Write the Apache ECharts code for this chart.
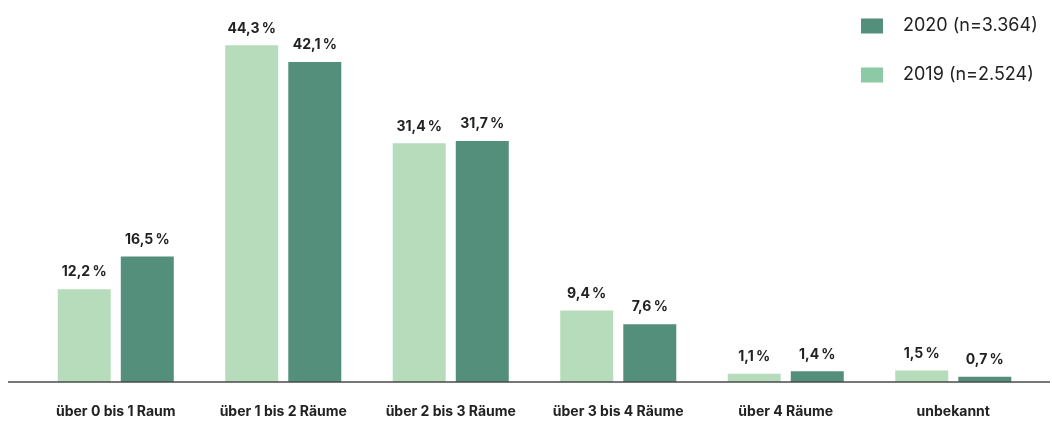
<!DOCTYPE html>
<html>
<head>
<meta charset="utf-8">
<script src="https://cdn.jsdelivr.net/npm/echarts@6/dist/echarts.min.js"></script>
<style>
html,body{margin:0;padding:0;background:#fff;}
#chart{width:1052px;height:422px;}
</style>
</head>
<body>
<div id="chart"></div>
<script>
const categories = ['über 0 bis 1 Raum', 'über 1 bis 2 Räume', 'über 2 bis 3 Räume', 'über 3 bis 4 Räume', 'über 4 Räume', 'unbekannt'];
const values2019 = [12.2, 44.3, 31.4, 9.4, 1.1, 1.5];
const values2020 = [16.5, 42.1, 31.7, 7.6, 1.4, 0.7];
const name2019 = '2019 (n=2.524)';
const name2020 = '2020 (n=3.364)';

const FONT = 'Inter, Lato, "Noto Sans", sans-serif';
const fmt = p => p.value.toFixed(1).replace('.', ',') + '\u2009%';

const chart = echarts.init(document.getElementById('chart'));
chart.setOption({
  backgroundColor: '#ffffff',
  animation: false,
  textStyle: { fontFamily: FONT },
  grid: { left: 32, right: 15, top: 2, bottom: 40, containLabel: false },
  legend: {
    orient: 'vertical',
    left: 856,
    top: 11,
    itemWidth: 22,
    itemHeight: 15,
    itemGap: 29,
    icon: 'rect',
    data: [
      { name: name2020, itemStyle: { color: '#548f7c' } },
      { name: name2019, itemStyle: { color: '#8cc9a5' } }
    ],
    textStyle: { fontSize: 18, color: '#222', fontFamily: FONT, padding: [0, 0, 0, 15], lineHeight: 20 }
  },
  xAxis: {
    type: 'category',
    data: categories,
    axisLine: { show: false },
    axisTick: { show: false },
    axisLabel: { interval: 0, margin: 23, fontSize: 14, fontWeight: 'bold', color: '#222', fontFamily: FONT }
  },
  yAxis: {
    type: 'value',
    min: 0,
    max: 50,
    show: false,
    splitLine: { show: false }
  },
  series: [
    {
      name: name2019,
      type: 'bar',
      data: values2019,
      barWidth: 53,
      barGap: '19%',
      itemStyle: { color: '#b6dcbb' },
      label: { show: true, position: 'top', distance: 10, formatter: fmt, fontSize: 14, fontWeight: 'bold', color: '#222', fontFamily: FONT }
    },
    {
      name: name2020,
      type: 'bar',
      data: values2020,
      barWidth: 53,
      itemStyle: { color: '#548f7c' },
      label: { show: true, position: 'top', distance: 10, formatter: fmt, fontSize: 14, fontWeight: 'bold', color: '#222', fontFamily: FONT }
    }
  ],
  graphic: [
    { type: 'line', shape: { x1: 8, y1: 382, x2: 1050, y2: 382 }, style: { stroke: '#4a4a4a', lineWidth: 1.5 }, z: 100 }
  ]
});
</script>
</body>
</html>
